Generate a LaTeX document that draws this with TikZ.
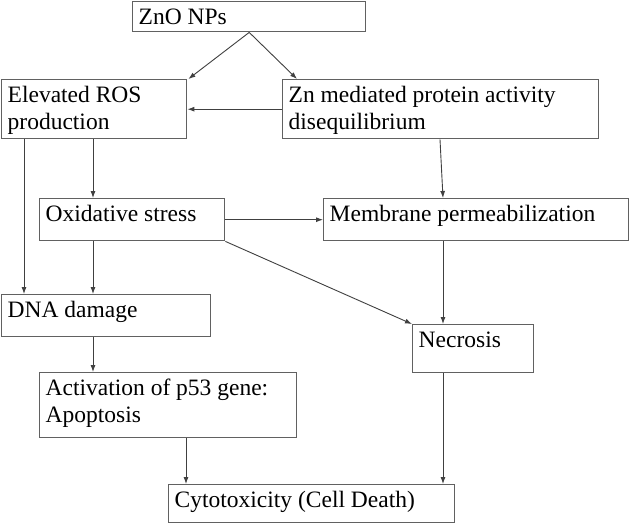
\documentclass[tikz,border=0pt]{standalone}
\usepackage{fontspec}
\setmainfont{Liberation Serif}
\newfontfamily\tnrfont{Liberation Serif}
\usetikzlibrary{arrows.meta}
\newcommand{\bxt}[3]{\parbox[b][#2pt][t]{#1pt}{\raggedright\leftskip=6pt\baselineskip=27pt\parindent=0pt\rule{0pt}{23pt}#3}}
\definecolor{boxline}{gray}{0.38}
\definecolor{arrline}{gray}{0.25}
\tikzset{
  box/.style={draw=boxline, line width=1.4pt, inner sep=0pt, anchor=north west,
    font=\tnrfont\fontsize{23.5}{27}\selectfont, text=black},
  arr/.style={draw=arrline, line width=0.9pt, -{Latex[length=7pt,width=5pt]}}
}
\begin{document}
\begin{tikzpicture}[x=1pt,y=-1pt]
\useasboundingbox[fill=white] (0,0) rectangle (629,523);
\node[box] (zno) at (132,1) {\bxt{233}{30}{ZnO NPs}};
\node[box] (ros) at (1,79) {\bxt{185}{59}{Elevated ROS\\production}};
\node[box] (zn) at (282,79) {\bxt{316}{59}{Zn mediated protein activity\\disequilibrium}};
\node[box] (ox) at (39,198) {\bxt{185}{42}{Oxidative stress}};
\node[box] (mem) at (323,198) {\bxt{305}{42}{Membrane permeabilization}};
\node[box] (dna) at (1,294) {\bxt{209}{42}{DNA damage}};
\node[box] (nec) at (412,324) {\bxt{121}{48}{Necrosis}};
\node[box] (p53) at (39,372) {\bxt{257}{65}{Activation of p53 gene:\\Apoptosis}};
\node[box] (cyto) at (168,484) {\bxt{286}{38}{Cytotoxicity (Cell Death)}};

\draw[arr] (zno.south) -- ([xshift=1pt]ros.north east);
\draw[arr] (zno.south) -- ([xshift=15pt]zn.north west);
\draw[arr] (zn.west) -- (ros.east);
\draw[arr] ([xshift=23pt]ros.south west) -- ([xshift=23pt]dna.north west);
\draw[arr] ([xshift=92pt]ros.south west) -- ([xshift=92pt]ros.south west |- ox.north);
\draw[arr] (ox.east) -- (ox.east -| mem.west);
\draw[arr] ([xshift=158pt]zn.south west) -- ([xshift=120pt]mem.north west);
\draw[arr] ([xshift=54pt]ox.south west) -- ([xshift=54pt]ox.south west |- dna.north);
\draw[arr] (ox.south east) -- (nec.north west);
\draw[arr] ([xshift=31pt]nec.north west |- mem.south) -- ([xshift=31pt]nec.north west);
\draw[arr] ([xshift=92pt]dna.south west) -- ([xshift=92pt]dna.south west |- p53.north);
\draw[arr] ([xshift=147pt]p53.south west) -- ([xshift=147pt]p53.south west |- cyto.north);
\draw[arr] ([xshift=31pt]nec.south west) -- ([xshift=31pt]nec.south west |- cyto.north);
\end{tikzpicture}
\end{document}
